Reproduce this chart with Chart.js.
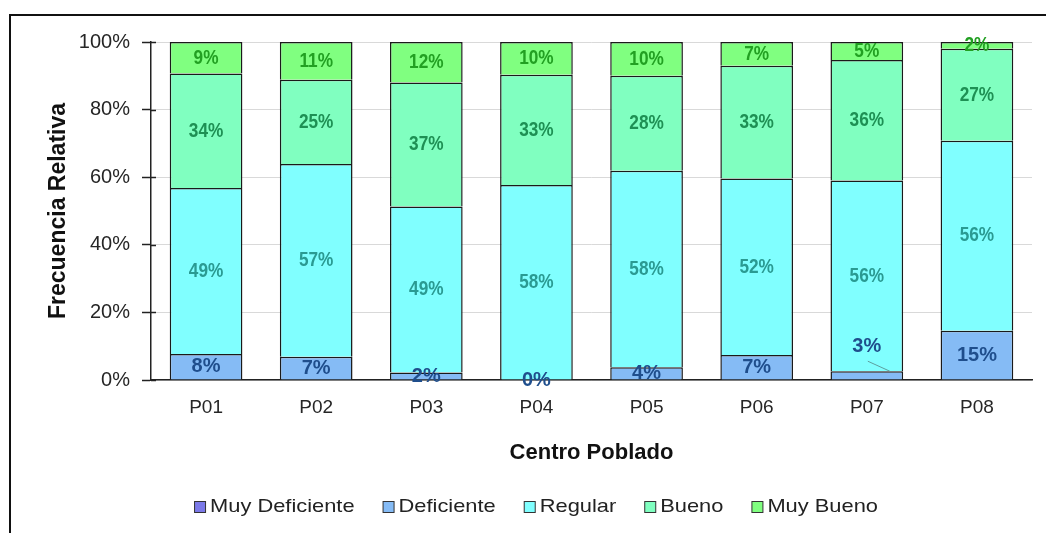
<!DOCTYPE html>
<html><head><meta charset="utf-8">
<script src="https://cdn.jsdelivr.net/npm/chart.js@4.4.0/dist/chart.umd.min.js"></script>
<style>html,body{margin:0;padding:0;background:#fff;}#wrap{position:relative;width:1046px;height:533px;background:#fff;}</style>
</head><body><div id="wrap"><canvas id="c"></canvas></div>
<script>
const categories = ['P01','P02','P03','P04','P05','P06','P07','P08'];
const seriesNames = ['Muy Deficiente','Deficiente','Regular','Bueno','Muy Bueno'];
const muyDeficiente = [0, 0, 0, 0, 0, 0, 0, 0];
const deficiente    = [7.7, 6.9, 2.2, 0, 3.8, 7.4, 2.6, 14.6];
const regular       = [49.1, 57.0, 49.1, 57.7, 58.1, 52.2, 56.4, 56.2];
const bueno         = [33.9, 24.9, 36.7, 32.6, 28.1, 33.4, 35.7, 27.2];
const muyBueno      = [9.3, 11.2, 12.0, 9.7, 10.0, 7.0, 5.3, 2.0];
const yTicks = [0, 20, 40, 60, 80, 100];
const xTitle = 'Centro Poblado';
const yTitle = 'Frecuencia Relativa';

const fills = ['#7B79E8', '#85BBF5', '#80FFFF', '#80FFC0', '#80FF80'];
const seriesValues = [muyDeficiente, deficiente, regular, bueno, muyBueno];

const labelStyles = [
  null,
  {size: 20, sx: 1.0, color: '#1F4E8C'},
  {size: 21, sx: 0.82, color: '#2A9A92'},
  {size: 21, sx: 0.82, color: '#1E9054'},
  {size: 21, sx: 0.82, color: '#22A022'}
];

const framePlugin = {
  id: 'frame',
  beforeDraw(chart) {
    const ctx = chart.ctx;
    ctx.save();
    ctx.fillStyle = '#fff';
    ctx.fillRect(0, 0, chart.width, chart.height);
    ctx.strokeStyle = '#111';
    ctx.lineWidth = 2;
    ctx.beginPath();
    ctx.moveTo(10, chart.height + 5);
    ctx.lineTo(10, 15);
    ctx.lineTo(chart.width + 5, 15);
    ctx.stroke();
    ctx.restore();
  }
};

const extrasPlugin = {
  id: 'extras',
  afterDatasetsDraw(chart) {
    const ctx = chart.ctx;
    const ys = chart.scales.y;
    ctx.save();
    ctx.strokeStyle = '#222';
    ctx.lineWidth = 1.5;
    ys.ticks.forEach(t => {
      const py = Math.round(ys.getPixelForValue(t.value)) + 0.5;
      ctx.beginPath();
      ctx.moveTo(ys.right, py);
      ctx.lineTo(ys.right + 5, py);
      ctx.stroke();
    });
    ctx.textAlign = 'center';
    ctx.textBaseline = 'middle';
    for (let d = 1; d < chart.data.datasets.length; d++) {
      const meta = chart.getDatasetMeta(d);
      const st = labelStyles[d];
      meta.data.forEach((bar, i) => {
        const v = chart.data.datasets[d].data[i];
        const txt = Math.round(v) + '%';
        let cy = (bar.y + bar.base) / 2;
        let cx = bar.x;
        if (d === 1 && i === 6) {
          const top = bar.y;
          cy = top - 25;
          ctx.save();
          ctx.strokeStyle = '#5E9E9E';
          ctx.lineWidth = 1;
          ctx.beginPath();
          ctx.moveTo(cx + 1, cy + 15);
          ctx.lineTo(cx + 23, top);
          ctx.stroke();
          ctx.restore();
        }
        ctx.save();
        ctx.translate(cx, cy);
        ctx.scale(st.sx, 1);
        ctx.font = 'bold ' + st.size + 'px "Liberation Sans", Arial, sans-serif';
        ctx.fillStyle = st.color;
        ctx.fillText(txt, 0, 0);
        ctx.restore();
      });
    }
    ctx.restore();
  },
  afterDraw(chart) {
    const ctx = chart.ctx;
    ctx.save();
    const size = 19, sx = 1.15, box = 12, gapText = 4, gapItem = 28;
    ctx.font = size + 'px "Liberation Sans", Arial, sans-serif';
    const widths = seriesNames.map(n => ctx.measureText(n).width * sx);
    let total = 0;
    widths.forEach((w, i) => { total += box + gapText + w + (i < widths.length - 1 ? gapItem : 0); });
    let x = 536 - total / 2;
    const cy = 507;
    ctx.textBaseline = 'middle';
    ctx.textAlign = 'left';
    seriesNames.forEach((n, i) => {
      ctx.fillStyle = fills[i];
      ctx.fillRect(x + 0.5, cy - 6 + 0.5, box - 1, box - 1);
      ctx.strokeStyle = '#333';
      ctx.lineWidth = 1;
      ctx.strokeRect(x + 0.5, cy - 6 + 0.5, box - 1, box - 1);
      ctx.save();
      ctx.translate(x + box + gapText, cy);
      ctx.scale(sx, 1);
      ctx.fillStyle = '#222';
      ctx.fillText(n, 0, 0);
      ctx.restore();
      x += box + gapText + widths[i] + gapItem;
    });
    ctx.restore();
  }
};

const datasets = seriesNames.map((name, i) => ({
  label: name,
  data: seriesValues[i],
  backgroundColor: fills[i],
  borderColor: '#1A1A1A',
  borderWidth: 1.5,
  barPercentage: 0.66,
  categoryPercentage: 1.0
}));

new Chart(document.getElementById('c'), {
  type: 'bar',
  data: { labels: categories, datasets },
  options: {
    responsive: true,
    maintainAspectRatio: false,
    animation: false,
    layout: { padding: { left: 45, right: 14, top: 42, bottom: 67 } },
    plugins: { legend: { display: false }, tooltip: { enabled: false } },
    scales: {
      x: {
        stacked: true,
        grid: { display: false, drawTicks: false },
        border: { display: true, color: '#222', width: 1.5 },
        ticks: { color: '#262626', font: { family: '"Liberation Sans", Arial', size: 19 }, padding: 16, maxRotation: 0 },
        title: { display: true, text: xTitle, color: '#111', font: { family: '"Liberation Sans", Arial', size: 22, weight: 'bold' }, padding: 0 },
        afterFit(s) { s.height = 86; }
      },
      y: {
        stacked: true,
        min: 0, max: 100,
        afterBuildTicks(s) { s.ticks = yTicks.map(v => ({ value: v })); },
        grid: { color: '#d9d9d9', lineWidth: 1, tickColor: '#222', tickLength: 9, tickWidth: 1.5 },
        border: { display: true, color: '#222', width: 1.5 },
        ticks: { color: '#262626', font: { family: '"Liberation Sans", Arial', size: 20 }, padding: 12, callback: v => v + '%' },
        title: { display: true, text: yTitle, color: '#111', font: { family: '"Liberation Sans", Arial', size: 23, weight: 'bold' }, padding: 0 },
        afterFit(s) { s.width = 106; }
      }
    }
  },
  plugins: [framePlugin, extrasPlugin]
});
</script>
</body></html>
